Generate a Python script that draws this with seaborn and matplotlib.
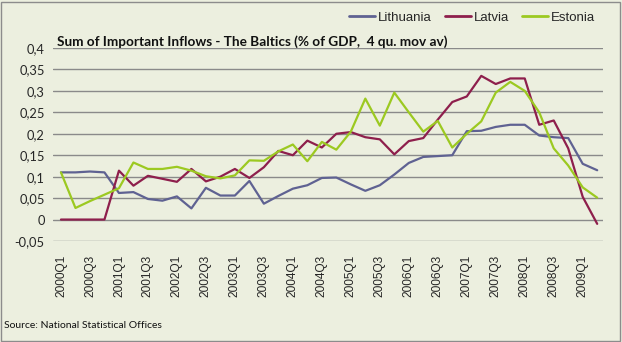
import matplotlib
matplotlib.use("Agg")
import matplotlib.pyplot as plt
import seaborn as sns
import pandas as pd

quarters = [f"{y}Q{q}" for y in range(2000, 2010) for q in range(1, 5)][:38]

lithuania = [0.110, 0.110, 0.112, 0.110, 0.062, 0.064, 0.048, 0.044, 0.054, 0.026,
             0.074, 0.056, 0.056, 0.090, 0.037, 0.055, 0.072, 0.080, 0.097, 0.098,
             0.082, 0.067, 0.080, 0.105, 0.132, 0.146, 0.148, 0.150, 0.206, 0.207,
             0.216, 0.221, 0.221, 0.196, 0.192, 0.190, 0.130, 0.115]
latvia = [0.0, 0.0, 0.0, 0.0, 0.114, 0.079, 0.102, 0.095, 0.088, 0.118,
          0.089, 0.100, 0.118, 0.097, 0.122, 0.160, 0.150, 0.184, 0.168, 0.200,
          0.204, 0.192, 0.187, 0.152, 0.183, 0.190, 0.233, 0.274, 0.287, 0.335,
          0.316, 0.329, 0.329, 0.221, 0.231, 0.166, 0.053, -0.010]
estonia = [0.110, 0.027, 0.043, 0.058, 0.073, 0.133, 0.118, 0.118, 0.123, 0.114,
           0.101, 0.096, 0.103, 0.138, 0.137, 0.159, 0.175, 0.136, 0.181, 0.163,
           0.205, 0.282, 0.219, 0.296, 0.250, 0.205, 0.230, 0.168, 0.200, 0.229,
           0.296, 0.321, 0.300, 0.250, 0.166, 0.126, 0.075, 0.051]

series_names = ["Lithuania", "Latvia", "Estonia"]
colors = ["#5f6292", "#8e1f4c", "#9cc921"]

rows = []
for name, vals in zip(series_names, [lithuania, latvia, estonia]):
    for i, v in enumerate(vals):
        rows.append({"idx": i, "value": v, "country": name})
df = pd.DataFrame(rows)

sns.set_theme(style="white")
bg = "#ecefdf"
plt.rcParams["font.family"] = ["Liberation Sans", "DejaVu Sans"]

fig = plt.figure(figsize=(6.22, 3.42), dpi=100, facecolor=bg)
ax = fig.add_axes([53/622, 1 - 241/342, (603-53)/622, (241-48)/342])
ax.set_facecolor(bg)

sns.lineplot(data=df, x="idx", y="value", hue="country", hue_order=series_names,
             palette=dict(zip(series_names, colors)), linewidth=1.6, ax=ax,
             legend=False)

ax.set_xlim(-0.55, 37.4)
ax.set_ylim(-0.05, 0.4)
yt = [-0.05, 0, 0.05, 0.1, 0.15, 0.2, 0.25, 0.3, 0.35, 0.4]
ax.set_yticks(yt)
ax.set_yticklabels([("%g" % v).replace(".", ",") for v in yt], fontsize=9.3,
                   family=["Lato", "DejaVu Sans"])
ax.yaxis.grid(True, color="#8a8a8a", linewidth=1.0)
ax.xaxis.grid(False)
ax.set_xticks(range(0, len(quarters), 2))
ax.set_xticklabels(quarters[::2], rotation=90, fontsize=8.6)
ax.tick_params(axis="x", length=0, pad=10)
ax.tick_params(axis="y", length=0, pad=6)
for s in ax.spines.values():
    s.set_visible(False)
ax.set_xlabel("")
ax.set_ylabel("")

fig.text(57/622, 1 - 46/342, "Sum of Important Inflows - The Baltics (% of GDP,  4 qu. mov av)",
         fontsize=9.8, fontweight="bold", family=["Lato", "DejaVu Sans"],
         ha="left", va="baseline", color="#111111")

handles = [plt.Line2D([], [], color=c, linewidth=2) for c in colors]
fig.legend(handles, series_names, loc="center right", bbox_to_anchor=(607/622, 1 - 18/342),
           ncol=3, frameon=False, fontsize=9.5, handlelength=2.0, handletextpad=0.2,
           columnspacing=1.0)

fig.text(4/622, 1 - 325/342, "Source: National Statistical Offices", fontsize=7.5,
         family=["Lato", "DejaVu Sans"], ha="left", va="center", color="#111111")

fig.patches.append(plt.Rectangle((1/622, 1/342), 1 - 3/622, 1 - 3/342, transform=fig.transFigure,
                                 fill=False, edgecolor="#8c8c8c", linewidth=1))

fig.savefig("out.png", dpi=100, facecolor=bg)
